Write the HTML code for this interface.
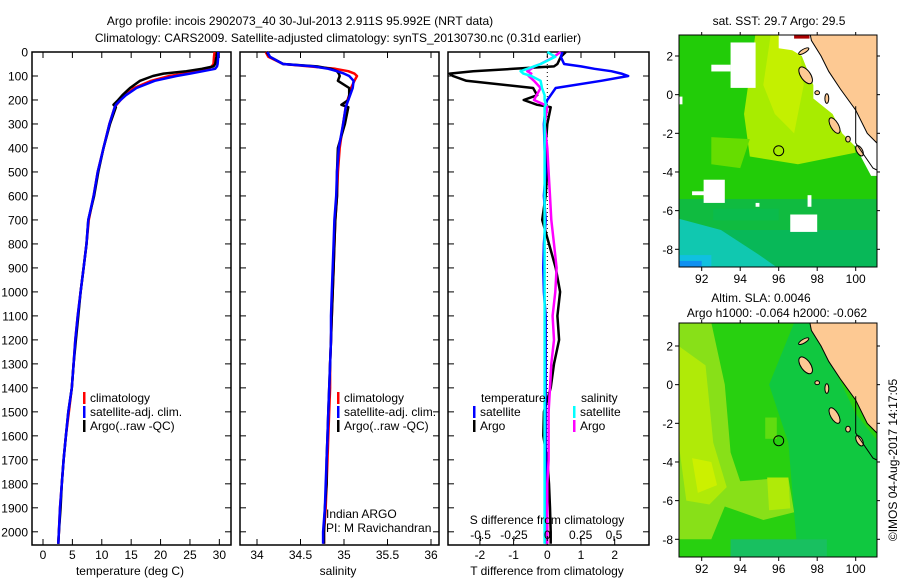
<!DOCTYPE html>
<html><head><meta charset="utf-8"><style>
html,body{margin:0;padding:0;background:#fff;}
svg{display:block;font-family:"Liberation Sans",sans-serif;}
text{font-size:12px;fill:#000;}
</style></head><body>
<svg id="fig" width="900" height="580" viewBox="0 0 900 580">
<text x="300" y="25" text-anchor="middle">Argo profile: incois 2902073_40 30-Jul-2013 2.911S 95.992E (NRT data)</text>
<text x="338" y="42" text-anchor="middle">Climatology: CARS2009. Satellite-adjusted climatology: synTS_20130730.nc (0.31d earlier)</text>
<g id="p1"></g>
<g id="p2"></g>
<g id="p3"></g>
<g id="m1"></g>
<g id="m2"></g>
<text transform="translate(897,460) rotate(-90)" text-anchor="middle">©IMOS 04-Aug-2017 14:17:05</text>
</svg>
<script>
// ---- data ----
const depthTicks=[0,100,200,300,400,500,600,700,800,900,1000,1100,1200,1300,1400,1500,1600,1700,1800,1900,2000];
const tempTicks=[0,5,10,15,20,25,30];
const salTicks=[34,34.5,35,35.5,36];
const salTickLabels=["34","34.5","35","35.5","36"];
const tdiffTicks=[-2,-1,0,1,2];
const sdiffTicks=[-0.5,-0.25,0,0.25,0.5];
const sdiffLabels=["-0.5","-0.25","0","0.25","0.5"];
const depth=[0,20,50,60,70,80,90,100,120,150,180,200,220,230,300,400,500,600,700,800,900,1000,1100,1200,1300,1400,1500,1600,1700,1800,1900,2000,2050];
const tempArgo=[29.6,29.5,29.3,29.0,27.0,24.4,20.5,18.7,16.5,14.8,13.5,12.8,12.0,12.4,11.4,10.3,9.4,8.7,7.7,7.4,6.9,6.4,6.0,5.6,5.2,4.9,4.3,3.9,3.5,3.2,3.0,2.7,2.6];
const tempClim=[29.2,29.1,29.0,28.7,28.0,26.2,24.0,21.5,18.4,15.5,14.0,13.2,12.5,12.2,11.3,10.3,9.3,8.6,7.8,7.4,6.9,6.4,5.9,5.5,5.2,4.9,4.4,3.9,3.5,3.2,2.9,2.7,2.6];
const tempSat=[29.8,29.8,29.7,29.6,29.3,27.2,25.0,22.7,19.0,15.9,14.1,13.2,12.4,12.2,11.3,10.3,9.3,8.6,7.7,7.4,6.9,6.4,5.9,5.5,5.2,4.9,4.3,3.9,3.5,3.2,2.9,2.7,2.6];
const salArgo=[34.11,34.15,34.3,34.69,34.85,34.92,34.94,34.95,34.93,35.06,35.06,35.05,34.97,35.05,35.01,34.93,34.92,34.92,34.9,34.89,34.88,34.87,34.86,34.85,34.84,34.83,34.82,34.81,34.80,34.80,34.78,34.77,34.77];
const salClim=[34.1,34.13,34.3,34.6,34.9,35.05,35.12,35.15,35.12,35.08,35.06,35.04,35.03,35.02,34.99,34.95,34.93,34.92,34.9,34.89,34.88,34.87,34.86,34.85,34.84,34.84,34.83,34.82,34.81,34.80,34.79,34.77,34.77];
const salSat=[34.12,34.15,34.3,34.65,34.82,34.92,35.0,35.06,35.11,35.10,35.07,35.05,35.03,35.02,34.99,34.94,34.92,34.91,34.89,34.88,34.87,34.86,34.85,34.85,34.84,34.83,34.82,34.81,34.80,34.79,34.78,34.76,34.76];
const tdArgo=[0.55,0.4,0.3,0.2,-1.0,-2.2,-2.9,-2.8,-2.4,-0.42,-0.3,-0.7,-0.3,0.1,0,-0.05,0,-0.05,-0.15,0.05,0.25,0.38,0.3,0.35,0.2,0.1,-0.1,-0.12,0,0.05,0.08,0.1,0.1];
const tdSat=[0.45,0.4,0.5,1.0,1.4,1.9,2.2,2.4,1.6,0.25,0.1,0,-0.05,-0.05,-0.1,-0.08,-0.05,-0.1,-0.05,-0.1,-0.12,-0.1,-0.05,-0.05,-0.05,-0.05,-0.05,-0.05,-0.05,-0.03,-0.03,-0.03,-0.03];
const sdArgo=[0.1,0.05,-0.05,-0.1,-0.12,-0.15,-0.12,-0.14,-0.1,-0.05,-0.08,-0.1,-0.02,0,-0.02,0,0.01,0.02,0.03,0.05,0.07,0.06,0.04,0.05,0.03,0.02,0.01,0.01,0.01,0,0,0,0];
const sdSat=[0.0,0.06,-0.05,-0.1,-0.15,-0.2,-0.18,-0.12,-0.05,-0.04,-0.02,-0.02,-0.01,-0.02,-0.02,-0.02,-0.02,-0.02,-0.02,-0.02,-0.02,-0.02,-0.02,-0.02,-0.02,-0.02,-0.02,-0.02,-0.02,-0.02,-0.02,-0.02,-0.02];

const NS="http://www.w3.org/2000/svg";
function mk(p,tag,a){const e=document.createElementNS(NS,tag);for(const k in a)e.setAttribute(k,a[k]);p.appendChild(e);return e;}
const TOP=52,BOT=545;
const yD=d=>TOP+d*0.2399;

function frame(g,x0,x1){
  const r=mk(g,'rect',{x:x0,y:TOP,width:x1-x0,height:BOT-TOP,fill:'none',stroke:'#000','stroke-width':1.5});
  
  
}
function line(g,xs,xf,color,name,w){
  let pts=[];
  for(let i=0;i<depth.length;i++){pts.push(xf(xs[i]).toFixed(1)+','+yD(depth[i]).toFixed(1));}
  const p=mk(g,'polyline',{points:pts.join(' '),fill:'none',stroke:color,'stroke-width':w||2.5,'stroke-linejoin':'round'});
  
  
}
function txt(g,x,y,s,anchor,name){
  const t=mk(g,'text',{x:x,y:y,'text-anchor':anchor||'start'});t.textContent=s;
  
  
  return t;
}
function legend(g,x,y,color,label){
  const m=mk(g,'rect',{x:x,y:y-10,width:2.5,height:12,fill:color});
  
  
  txt(g,x+7,y,label,'start','legend-entry');
}
// panel 1
const p1=document.getElementById('p1');
const xT=v=>43+v*5.878;
frame(p1,32,231);
depthTicks.forEach(d=>{
  mk(p1,'line',{x1:32,x2:38,y1:yD(d),y2:yD(d),stroke:'#000'});
  mk(p1,'line',{x1:225,x2:231,y1:yD(d),y2:yD(d),stroke:'#000'});
  txt(p1,28,yD(d)+4.5,String(d),'end','depth-tick-label');
});
tempTicks.forEach(v=>{
  mk(p1,'line',{x1:xT(v),x2:xT(v),y1:BOT,y2:BOT-6,stroke:'#000'});
  mk(p1,'line',{x1:xT(v),x2:xT(v),y1:TOP,y2:TOP+6,stroke:'#000'});
  txt(p1,xT(v),559,String(v),'middle','temperature-tick-label');
});
txt(p1,130,575,'temperature (deg C)','middle','x-axis-title-temperature');
line(p1,tempClim,xT,'#f00','temperature-climatology-line');
line(p1,tempArgo,xT,'#000','temperature-argo-line');
line(p1,tempSat,xT,'#00f','temperature-satellite-line');
legend(p1,83,402,'#f00','climatology');
legend(p1,83,416,'#00f','satellite-adj. clim.');
legend(p1,83,430,'#000','Argo(..raw -QC)');
// panel 2
const p2=document.getElementById('p2');
const xS=v=>257+(v-34)*87;
frame(p2,240,439);
depthTicks.forEach(d=>{
  mk(p2,'line',{x1:240,x2:246,y1:yD(d),y2:yD(d),stroke:'#000'});
  mk(p2,'line',{x1:433,x2:439,y1:yD(d),y2:yD(d),stroke:'#000'});
});
salTicks.forEach((v,i)=>{
  mk(p2,'line',{x1:xS(v),x2:xS(v),y1:BOT,y2:BOT-6,stroke:'#000'});
  mk(p2,'line',{x1:xS(v),x2:xS(v),y1:TOP,y2:TOP+6,stroke:'#000'});
  txt(p2,xS(v),559,salTickLabels[i],'middle','salinity-tick-label');
});
txt(p2,338,575,'salinity','middle','x-axis-title-salinity');
line(p2,salClim,xS,'#f00','salinity-climatology-line');
line(p2,salArgo,xS,'#000','salinity-argo-line');
line(p2,salSat,xS,'#00f','salinity-satellite-line');
legend(p2,337,402,'#f00','climatology');
legend(p2,337,416,'#00f','satellite-adj. clim.');
legend(p2,337,430,'#000','Argo(..raw -QC)');
txt(p2,326,518,'Indian ARGO','start','pi-institution');
txt(p2,326,532,'PI: M Ravichandran','start','pi-name');
// panel 3
const p3=document.getElementById('p3');
const xTd=v=>547.3+v*33.7;
const xSd=v=>547.3+v*133.4;
frame(p3,448,649);
mk(p3,'line',{x1:547.3,x2:547.3,y1:TOP,y2:BOT,stroke:'#000','stroke-dasharray':'1,3'});
depthTicks.forEach(d=>{
  mk(p3,'line',{x1:448,x2:454,y1:yD(d),y2:yD(d),stroke:'#000'});
  mk(p3,'line',{x1:643,x2:649,y1:yD(d),y2:yD(d),stroke:'#000'});
});
tdiffTicks.forEach(v=>{
  mk(p3,'line',{x1:xTd(v),x2:xTd(v),y1:BOT,y2:BOT-6,stroke:'#000'});
  mk(p3,'line',{x1:xTd(v),x2:xTd(v),y1:TOP,y2:TOP+6,stroke:'#000'});
  txt(p3,xTd(v),559,String(v),'middle','tdiff-tick-label');
});
line(p3,tdArgo,xTd,'#000','tdiff-argo-line');
line(p3,tdSat,xTd,'#00f','tdiff-satellite-line');
line(p3,sdArgo,xSd,'#f0f','sdiff-argo-line');
line(p3,sdSat,xSd,'#0ff','sdiff-satellite-line');
sdiffTicks.forEach((v,i)=>{
  mk(p3,'line',{x1:xSd(v),x2:xSd(v),y1:BOT-4,y2:BOT-9,stroke:'#000'});
  txt(p3,xSd(v),539,sdiffLabels[i],'middle','sdiff-tick-label');
});
txt(p3,547,524,'S difference from climatology','middle','sdiff-axis-title');
txt(p3,547,575,'T difference from climatology','middle','tdiff-axis-title');
txt(p3,481,402,'temperature','start','legend-title-temperature');
txt(p3,581,402,'salinity','start','legend-title-salinity');
legend(p3,473,416,'#00f','satellite');
legend(p3,473,430,'#000','Argo');
legend(p3,573,416,'#0ff','satellite');
legend(p3,573,430,'#f0f','Argo');

// ---- maps (decorative imagery) ----
function map(g,y0,y1,lat2y,title1,title2,kind,id){
  const x0=679,x1=877;
  const lx=lo=>701.7+(lo-92)*19.25;
  const ly=la=>lat2y+(2-la)*19.33;
  const cp=mk(g,'clipPath',{id:'c'+id});mk(cp,'rect',{x:x0,y:y0,width:x1-x0,height:y1-y0});
  const c=mk(g,'g',{'clip-path':'url(#c'+id+')'});
  const R=(lo0,la0,lo1,la1,f)=>mk(c,'rect',{x:lx(lo0),y:ly(la0),width:lx(lo1)-lx(lo0),height:ly(la1)-ly(la0),fill:f});
  const P=(pts,f,s)=>mk(c,'polygon',{points:pts.map(p=>lx(p[0])+','+ly(p[1])).join(' '),fill:f,stroke:s||'none'});
  if(kind==='sst'){
    R(90,4,102,-10,'#22cc08');
    P([[94.8,3.2],[97.2,3.2],[98,1],[99.5,-1],[100,-3],[97,-3.6],[94.5,-3.2],[94.2,-1]],'#a8ec00');
    P([[95.6,3.2],[97,3.2],[97.3,0.5],[96.8,-2],[95.8,-1],[95.2,0.5]],'#c4f000');
    P([[92.5,-2.2],[94.5,-2.3],[94,-3.8],[92.5,-3.6]],'#66dd00');
    R(90,-5.4,102,-10,'#10bb40');
    R(90,-7,102,-10,'#08b858');
    P([[90,-6.2],[93,-7],[95,-8.3],[96,-9],[90,-9]],'#10c8b0');
    R(90.8,-8.3,92.5,-9,'#10c0e0');
    R(90.8,-8.6,92,-9,'#1090f0');
    R(92.6,-5.9,96,-6.5,'#0bbb4c');
    // white gaps
    P([[96,3.2],[97.6,3.2],[98.2,2],[99.2,0.3],[100,-0.8],[100.6,-2],[101.2,-2.6],[101.2,-4.2],[100.8,-4.2],[100,-2.7],[99.3,-2],[98.8,-1.0],[97.8,-0.2],[97.8,0.5],[97.2,2.0],[96.7,2.3],[96,2.4]],'#fff');
    R(93.5,2.7,94.8,0.35,'#fff');R(92.5,1.55,93.5,1.2,'#fff');
    R(90.8,-0.1,91,-0.5,'#fff');
    R(92.1,-4.4,93.2,-5.6,'#fff');R(91.5,-5,92.2,-5.2,'#fff');
    R(96.6,-6.2,98,-7.1,'#fff');R(94.8,-5.6,95,-5.8,'#fff');R(97.5,-5.2,97.7,-5.8,'#fff');
    R(96.8,3.2,97.6,2.9,'#aa0000');
  } else {
    R(90,4,102,-10,'#28d010');
    P([[96.8,3.2],[97.8,3.2],[98.8,1],[100,-1.5],[101.2,-3],[101.2,-9],[97,-9],[96.5,-3],[95.5,0]],'#10c840');
    P([[90.8,3.2],[92.5,3.2],[93.2,0],[93.5,-3.5],[94,-5],[96.5,-4.8],[96.8,-6.6],[95.2,-7],[93.2,-6.3],[92.5,-8],[90.8,-8]],'#88e018');
    P([[90.8,2],[92.2,1],[92.6,-3],[93.3,-5.3],[92.4,-6.2],[91.2,-6],[90.8,-3]],'#b0ea08');
    P([[91.5,-3.8],[92.5,-4],[92.8,-5.2],[91.8,-5.6]],'#ccf000');
    P([[95.4,-4.8],[96.5,-4.8],[96.6,-6.4],[95.5,-6.5]],'#b0ea08');
    R(95.3,-1.7,95.9,-2.8,'#60dc10');
    R(93.5,-8,98.5,-9,'#18c060');
  }
  // land
  P([[97.6,3.3],[101.2,3.3],[101.2,-2.6],[100.6,-2],[100,-0.8],[99.2,0.3],[98.6,1.2],[98.2,2],[97.7,2.8]],'#fdc993','#000');
  const isl=[[97.3,2.25,0.3,0.1,-30],[97.4,1.0,0.25,0.5,-35],[98.0,0.1,0.12,0.1,0],[98.5,-0.2,0.1,0.25,0],[98.9,-1.6,0.2,0.45,-30],[99.6,-2.3,0.12,0.15,0],[100.2,-2.9,0.15,0.3,-30]];
  isl.forEach(a=>mk(c,'ellipse',{cx:lx(a[0]),cy:ly(a[1]),rx:a[2]*19.3,ry:a[3]*19.3,fill:'#fdc993',stroke:'#000',transform:'rotate('+a[4]+' '+lx(a[0])+' '+ly(a[1])+')'}));
  mk(c,'polyline',{points:[[100,-0.6],[100,-2.5],[100.9,-3.8],[101.1,-3.9]].map(p=>lx(p[0])+','+ly(p[1])).join(' '),fill:'none',stroke:'#000'});
  const ci=mk(g,'circle',{cx:lx(96),cy:ly(-2.9),r:5,fill:'none',stroke:'#000'});
  
  
  const fr=mk(g,'rect',{x:x0,y:y0,width:x1-x0,height:y1-y0,fill:'none',stroke:'#000'});
  
  
  [92,94,96,98,100].forEach(lo=>{
    mk(g,'line',{x1:lx(lo),x2:lx(lo),y1:y1,y2:y1+4,stroke:'#000'});
    mk(g,'line',{x1:lx(lo),x2:lx(lo),y1:y0,y2:y0-3,stroke:'#000'});
    txt(g,lx(lo),y1+16,String(lo),'middle','map-lon-label');
  });
  [2,0,-2,-4,-6,-8].forEach(la=>{
    mk(g,'line',{x1:x0,x2:x0-4,y1:ly(la),y2:ly(la),stroke:'#000'});
    mk(g,'line',{x1:x1,x2:x1+3,y1:ly(la),y2:ly(la),stroke:'#000'});
    txt(g,673,ly(la)+4.5,String(la),'end','map-lat-label');
  });
  if(title1[0])txt(g,title1[1],title1[2],title1[0],'middle','map-title');
  if(title2)txt(g,title2[1],title2[2],title2[0],'middle','map-subtitle');
}
map(document.getElementById('m1'),35,267,56,['sat. SST: 29.7 Argo: 29.5',779,25],null,'sst',1);
map(document.getElementById('m2'),323,557,346,['Altim. SLA: 0.0046',761,302],['Argo h1000: -0.064 h2000: -0.062',777,317],'sla',2);
</script>
</body></html>
